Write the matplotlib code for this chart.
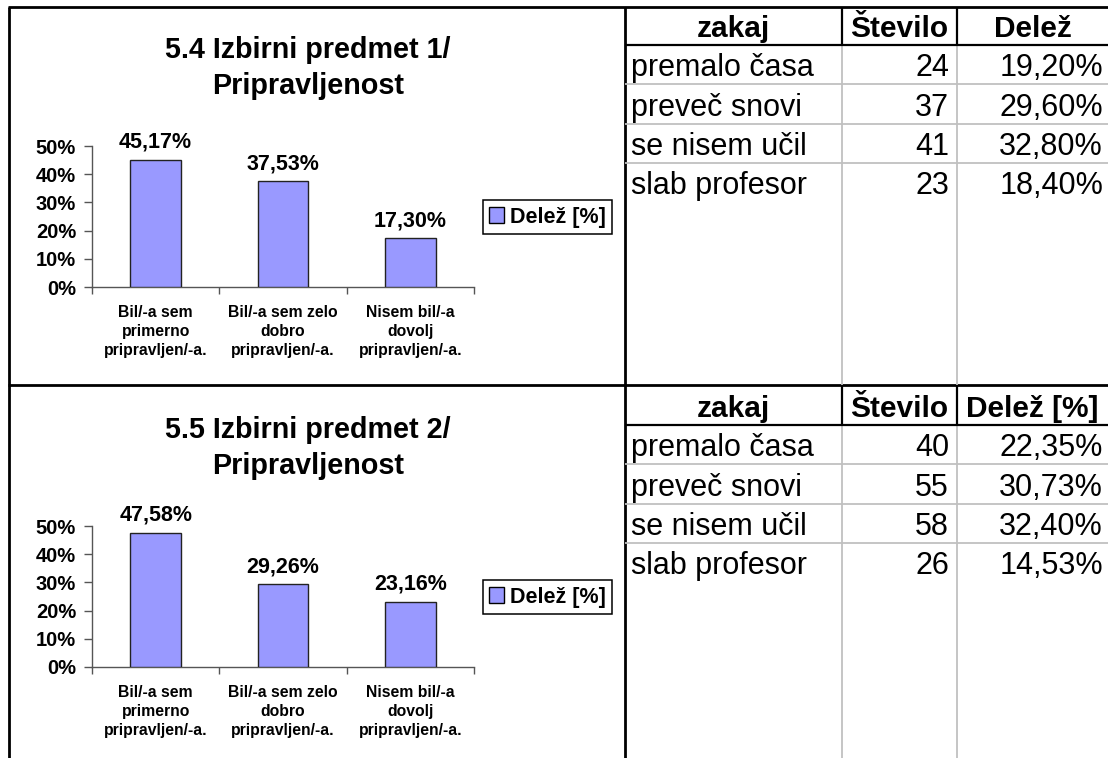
import matplotlib

matplotlib.use("Agg")
import matplotlib.pyplot as plt
from matplotlib.lines import Line2D
from matplotlib.patches import Patch

plt.rcParams["font.family"] = ["Liberation Sans", "DejaVu Sans"]

# ---- data ----
categories = [
    "Bil/-a sem\nprimerno\npripravljen/-a.",
    "Bil/-a sem zelo\ndobro\npripravljen/-a.",
    "Nisem bil/-a\ndovolj\npripravljen/-a.",
]
titles = ["5.4 Izbirni predmet 1/\nPripravljenost", "5.5 Izbirni predmet 2/\nPripravljenost"]
shares_1 = [45.17, 37.53, 17.30]
shares_2 = [47.58, 29.26, 23.16]
legend_label = "Delež [%]"

table_headers_1 = ["zakaj", "Število", "Delež"]
table_headers_2 = ["zakaj", "Število", "Delež [%]"]
reasons = ["premalo časa", "preveč snovi", "se nisem učil", "slab profesor"]
counts_1 = [24, 37, 41, 23]
pct_1 = [19.20, 29.60, 32.80, 18.40]
counts_2 = [40, 55, 58, 26]
pct_2 = [22.35, 30.73, 32.40, 14.53]

W, H = 1108, 758
BAR_COLOR = "#9999FF"
GRID_GRAY = "#c0c0c0"
AXIS_GRAY = "#555555"

fig = plt.figure(figsize=(W / 100, H / 100), dpi=100)
fig.patch.set_facecolor("white")

# overlay axis in pixel coordinates for borders, titles and tables
canvas = fig.add_axes([0, 0, 1, 1])
canvas.set_xlim(0, W)
canvas.set_ylim(H, 0)
canvas.axis("off")


def hline(y, x0, x1, color="black", lw=1.6):
    canvas.add_line(Line2D([x0, x1], [y, y], color=color, lw=lw, solid_capstyle="butt"))


def vline(x, y0, y1, color="black", lw=1.6):
    canvas.add_line(Line2D([x, x], [y0, y1], color=color, lw=lw, solid_capstyle="butt"))


def px_axes(x0, y_top, x1, y_bottom):
    return fig.add_axes([x0 / W, 1 - y_bottom / H, (x1 - x0) / W, (y_bottom - y_top) / H])


def fmt_pct(v):
    return f"{v:.2f}%".replace(".", ",")


def draw_chart(values, title, y_top, y_zero, title_y, legend_y):
    ax = px_axes(92, y_top, 474, y_zero)
    x = list(range(len(values)))
    ax.bar(x, values, width=0.4, color=BAR_COLOR, edgecolor="#222222", linewidth=1.0, zorder=3)
    ax.set_xlim(-0.5, len(values) - 0.5)
    ax.set_ylim(0, 50)
    for side in ("top", "right"):
        ax.spines[side].set_visible(False)
    for side in ("left", "bottom"):
        ax.spines[side].set_color(AXIS_GRAY)
        ax.spines[side].set_linewidth(1.0)
    ax.set_yticks(range(0, 51, 10))
    ax.set_yticklabels([f"{t}%" for t in range(0, 51, 10)], fontsize=14.5, fontweight="bold")
    ax.tick_params(axis="y", length=6, width=1.0, color=AXIS_GRAY, pad=5.5)
    ax.set_xticks([i - 0.5 for i in range(len(values) + 1)])
    ax.set_xticklabels([])
    ax.tick_params(axis="x", which="major", length=5, width=1.0, color=AXIS_GRAY)
    ax.set_xticks(x, minor=True)
    ax.set_xticklabels(categories, minor=True, fontsize=11.3, fontweight="bold", linespacing=1.33)
    ax.tick_params(axis="x", which="minor", length=0, pad=13)
    for i, v in enumerate(values):
        ax.annotate(
            fmt_pct(v),
            (i, v),
            xytext=(0, 5),
            textcoords="offset points",
            ha="center",
            va="bottom",
            fontsize=15.5,
            fontweight="bold",
        )
    canvas.text(308, title_y, title, ha="center", va="center", fontsize=20.7,
                fontweight="bold", linespacing=1.38)
    leg = fig.legend(
        handles=[Patch(facecolor=BAR_COLOR, edgecolor="black", linewidth=1.0)],
        labels=[legend_label],
        loc="center",
        bbox_to_anchor=(547.5 / W, 1 - legend_y / H),
        prop={"weight": "bold", "size": 15.5},
        handlelength=0.7,
        handleheight=0.7,
        handletextpad=0.25,
        borderpad=0.3,
        borderaxespad=0,
        fancybox=False,
        framealpha=1,
    )
    leg.get_frame().set_edgecolor("black")
    leg.get_frame().set_linewidth(1.1)


def draw_table(headers, counts, pct, top, header_bottom, bottom):
    col_x = [625, 842, 957, W]
    for cx in col_x[1:3]:
        vline(cx, top, header_bottom)
        vline(cx, header_bottom, bottom, color=GRID_GRAY, lw=1.3)
    hline(header_bottom, 625, W)
    row_h = 39.3
    for k in range(1, len(reasons)):
        hline(header_bottom + k * row_h, 625, W, color=GRID_GRAY, lw=1.3)
    hb = header_bottom - 8
    for j, head in enumerate(headers):
        canvas.text((col_x[j] + col_x[j + 1]) / 2, hb, head, ha="center", va="baseline",
                    fontsize=21.5, fontweight="bold")
    for k, (r, c, p) in enumerate(zip(reasons, counts, pct)):
        base = header_bottom + (k + 1) * row_h - 8
        canvas.text(631, base, r, ha="left", va="baseline", fontsize=22)
        canvas.text(949, base, str(c), ha="right", va="baseline", fontsize=22)
        canvas.text(1103, base, fmt_pct(p), ha="right", va="baseline", fontsize=22)


# outer borders and section dividers
hline(7, 8, W, lw=2.0)
vline(9, 7, H, lw=2.0)
vline(625, 7, H, lw=2.0)
hline(385, 8, W, lw=2.0)

draw_chart(shares_1, titles[0], 146, 287, 68, 217)
draw_chart(shares_2, titles[1], 526, 667, 448, 597)
draw_table(table_headers_1, counts_1, pct_1, 7, 45, 385)
draw_table(table_headers_2, counts_2, pct_2, 385, 425, H)

fig.savefig("out.png", dpi=100, facecolor="white")
